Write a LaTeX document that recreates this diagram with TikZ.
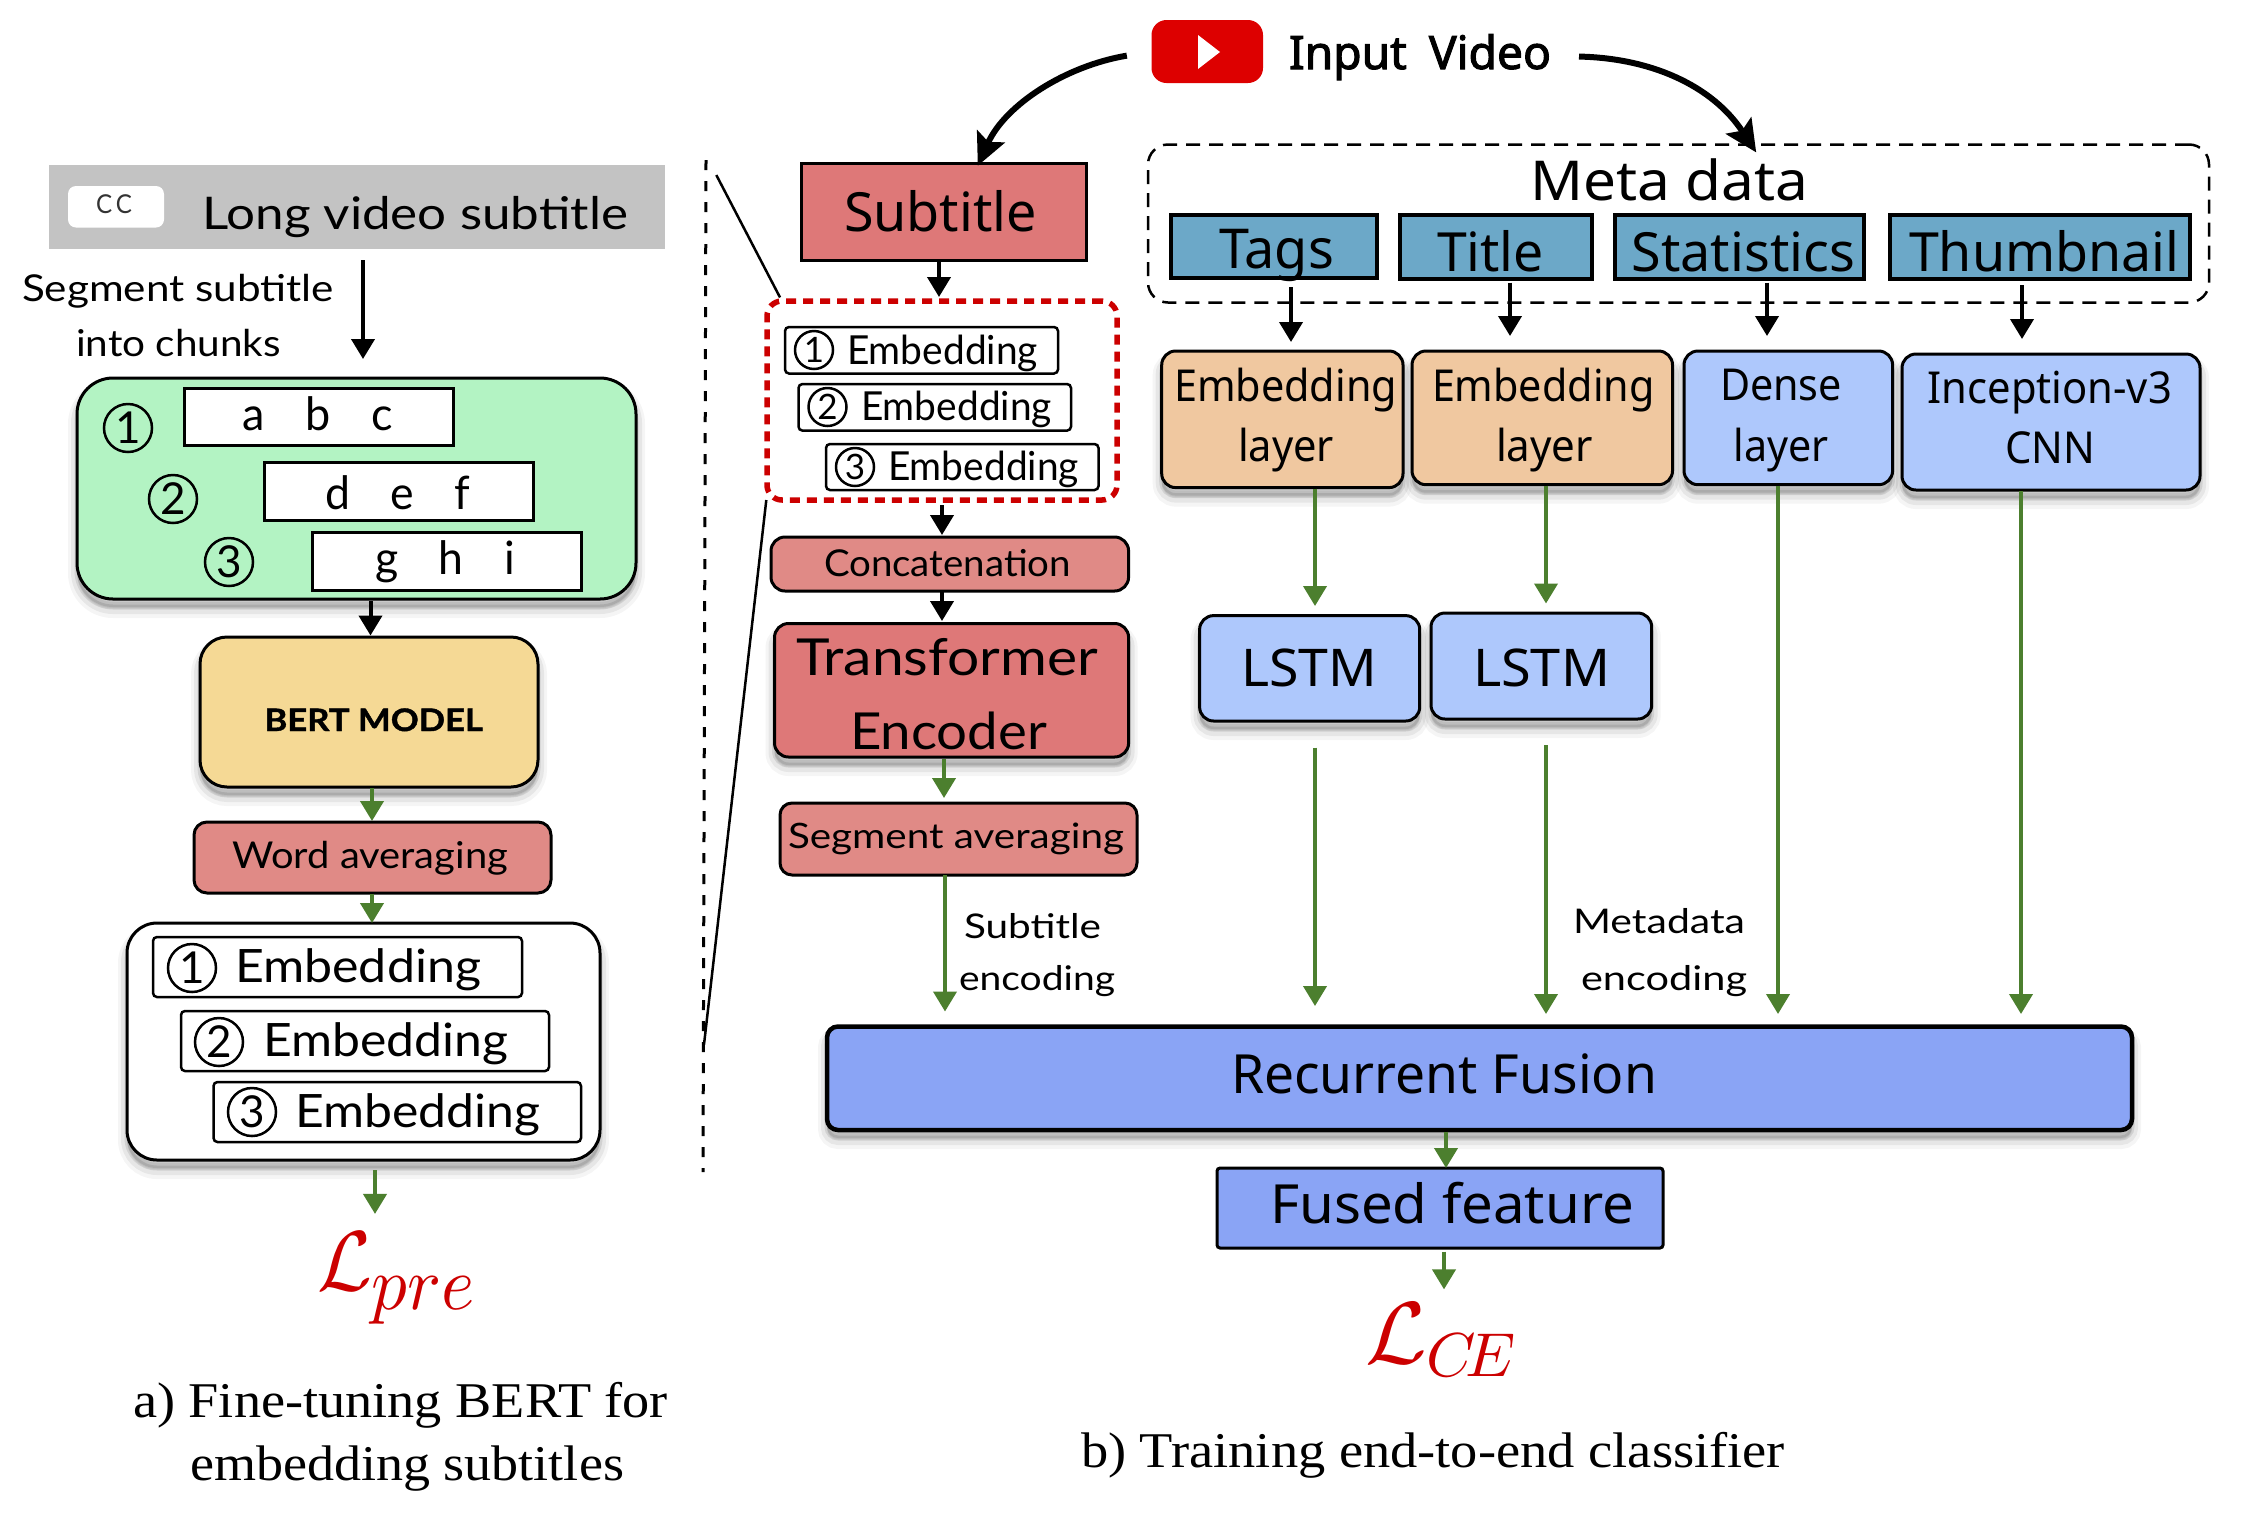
\documentclass[tikz,border=0pt]{standalone}
\usepackage{fontspec}
\usepackage{graphicx}
\usetikzlibrary{arrows.meta}
\newfontfamily\latofam{Lato}
\newfontfamily\latoheavy[BoldFeatures={FakeBold=1.2}]{Lato}
\newfontfamily\notofam{Noto Sans}
\newfontfamily\notoheavy[FakeBold=2.2]{Noto Sans}
\newfontfamily\serfam{Liberation Serif}
\newcommand\fL[1]{\fontsize{#1}{#1}\selectfont\latofam}
\newcommand\fLb[1]{\fontsize{#1}{#1}\selectfont\latoheavy\bfseries}
\newcommand\fN[1]{\fontsize{#1}{#1}\selectfont\notofam}
\newcommand\fNb[1]{\fontsize{#1}{#1}\selectfont\notoheavy}
\newcommand\fS[1]{\fontsize{#1}{#1}\selectfont\serfam}
\definecolor{cgray}{HTML}{C3C3C3}
\definecolor{cgreen}{HTML}{B3F3C3}
\definecolor{cbert}{HTML}{F5D995}
\definecolor{cword}{HTML}{E08A86}
\definecolor{csub}{HTML}{DE7878}
\definecolor{ctag}{HTML}{6CA8C8}
\definecolor{cpeach}{HTML}{F0C8A0}
\definecolor{cblue}{HTML}{AEC8FC}
\definecolor{cfus}{HTML}{8AA4F5}
\definecolor{cdg}{HTML}{4C7F2E}
\definecolor{cred}{HTML}{CC0000}
\definecolor{cyt}{HTML}{DD0000}
\newsavebox\tbx
% text line inside a box node: left, right, baseline, content
\newcommand\tl[4]{\sbox\tbx{#4}\pgfmathsetmacro\sxx{(#2-#1)/\the\wd\tbx}\pgfmathsetmacro\kx{#1-\cx}\pgfmathsetmacro\ry{\cy-#3-1}\makebox[0pt][l]{\kern\kx pt\raisebox{\ry pt}[0pt][0pt]{\scalebox{\sxx}[1]{\usebox\tbx}}}}
% box node: name, style, x1, y1, x2, y2, content
\newcommand\bx[7]{\pgfmathsetmacro\cx{(#3+#5)/2}\pgfmathsetmacro\cy{(#4+#6)/2}\pgfmathsetmacro\bw{#5-#3}\pgfmathsetmacro\bh{#6-#4}\node[#2,minimum width=\bw pt,minimum height=\bh pt] (#1) at (\cx,\cy) {#7};}
% free text node: name, left, right, baseline, content
\newcommand\tx[5]{\node[anchor=base west] (#1) at (#2,#4+1) {\sbox\tbx{#5}\pgfmathsetmacro\sxx{(#3-#2)/\the\wd\tbx}\scalebox{\sxx}[1]{\usebox\tbx}};}
\tikzset{
 every node/.style={inner sep=0pt,outer sep=0pt},
 softshadow/.style={
  preaction={draw=black,fill=black,opacity=.04,line width=18pt,transform canvas={yshift=-10pt}},
  preaction={draw=black,fill=black,opacity=.06,line width=12pt,transform canvas={yshift=-9pt}},
  preaction={draw=black,fill=black,opacity=.09,line width=5pt,transform canvas={yshift=-8pt}}},
 plain/.style={draw=black,line width=3pt},
 round1/.style={plain,rounded corners=#1},
 rbox/.style={draw=black,line width=2.5pt,fill=white,rounded corners=4pt},
 tagbox/.style={draw=black,line width=4pt,fill=ctag},
 num/.style={circle,draw=black,line width=2.5pt,minimum size=#1},
 blk/.style={draw=black,line width=4pt,-{Triangle[length=20pt,width=23pt]}},
 grn/.style={draw=cdg,line width=4pt,-{Triangle[length=20pt,width=23pt]}},
 curv/.style={draw=black,line width=6pt,-{Stealth[length=32pt,width=30pt,inset=6pt]}},
 guide/.style={draw=black,line width=2.5pt}
}
\begin{document}
\begin{tikzpicture}[x=1pt,y=-1pt]
\useasboundingbox (0,0) rectangle (2266,1524);
\fill[white] (0,0) rectangle (2266,1524);

% ---------- left panel ----------
\bx{gray}{fill=cgray}{49}{165}{665}{249.4}{\tl{202}{628}{228.4}{\fL{45}Long video subtitle}}
\bx{cc}{fill=white,rounded corners=8pt}{68}{186}{164}{227.5}{\tl{96}{132}{212}{\fL{26}\color{black!80}C\hspace{4pt}C}}
\tx{seg1}{22}{334}{300.7}{\fL{37}Segment subtitle}
\tx{seg2}{76}{281}{355}{\fL{37}into chunks}

\bx{chunks}{round1=36pt,fill=cgreen,softshadow}{77}{378}{636}{599}{}
\bx{abc}{plain,fill=white}{184}{388}{453}{445.8}{\tl{242}{393}{429.3}{\fL{46}a\hspace{42pt}b\hspace{42pt}c}}
\bx{def}{plain,fill=white}{264}{462}{533}{520.8}{\tl{325}{470.6}{508.3}{\fL{46}d\hspace{42pt}e\hspace{42pt}f}}
\bx{ghi}{plain,fill=white}{312}{532.4}{581}{590.4}{\tl{375}{515}{573}{\fL{46}g\hspace{42pt}h\hspace{42pt}i}}
\node[num=48pt] (ca1) at (128,428) {\fL{44}1};
\node[num=48pt] (ca2) at (173,499) {\fL{44}2};
\node[num=48pt] (ca3) at (229,562) {\fL{44}3};

\bx{bert}{round1=27pt,fill=cbert,softshadow}{200}{637}{538}{787}{\tl{264.5}{483}{730}{\fLb{31}BERT MODEL}}
\bx{word}{round1=13pt,fill=cword}{194}{822}{551}{893}{\tl{232}{508}{867}{\fL{37}Word averaging}}

\bx{embs}{round1=30pt,fill=white,softshadow}{127}{923}{600}{1160}{}
\bx{ea1}{rbox}{153}{937}{522}{997}{\tl{235}{481}{981}{\fL{46}Embedding}}
\bx{ea2}{rbox}{181}{1011}{549}{1071}{\tl{263}{508}{1055}{\fL{46}Embedding}}
\bx{ea3}{rbox}{213.5}{1082}{581}{1142}{\tl{295}{540}{1126}{\fL{46}Embedding}}
\node[num=48pt] (cb1) at (192,968) {\fL{44}1};
\node[num=48pt] (cb2) at (219,1042) {\fL{44}2};
\node[num=48pt] (cb3) at (252,1112) {\fL{44}3};

\tx{lpre}{317}{475}{1289}{\color{cred}\scalebox{8.5}{\normalsize$\mathcal{L}$}\raisebox{-19.5pt}{\scalebox{7.6}{\normalsize$pre$}}}
\tx{capa1}{133}{668}{1416}{\fS{50}a) Fine-tuning BERT for}
\tx{capa2}{190}{624}{1479}{\fS{50}embedding subtitles}

\draw[blk,shorten <=11pt,shorten >=19pt] (gray.south -| 363,0) -- (chunks.north -| 363,0);
\draw[blk,shorten <=2pt,shorten >=1.5pt] (chunks.south -| 370.5,0) -- (bert.north -| 370.5,0);
\draw[grn,shorten <=1pt,shorten >=1pt] (bert.south -| 372,0) -- (word.north -| 372,0);
\draw[grn,shorten <=1pt] (word.south -| 372,0) -- (embs.north -| 372,0);
\draw[grn,shorten <=10pt,shorten >=18pt] (embs.south -| 375,0) -- (lpre.north -| 375,0);

% ---------- separator ----------
\coordinate (sepT) at (706,160);
\coordinate (sepB) at (703,1172);
\draw[line width=3pt,dash pattern=on 10pt off 11pt] (sepT) -- (sepB);

% ---------- right panel ----------
\bx{yt}{fill=cyt,rounded corners=15pt}{1151.5}{20}{1263}{83}{}
\fill[white] (1198,35) -- (1220,52) -- (1198,69) -- cycle;
\tx{input}{1289}{1551}{68}{\fNb{46}Input\hspace{22pt}Video}

\bx{subtitle}{plain,fill=csub}{801}{163}{1086}{260}{\tl{844}{1037}{230}{\fN{54}Subtitle}}
\bx{reddash}{draw=cred,line width=5.5pt,dash pattern=on 10pt off 7pt,rounded corners=15pt}{767}{301}{1117}{500}{}
\bx{er1}{rbox}{785}{327}{1058}{373.5}{\tl{847}{1038}{363}{\fL{40}Embedding}}
\bx{er2}{rbox}{798.5}{384}{1071}{430.6}{\tl{861}{1052}{419}{\fL{40}Embedding}}
\bx{er3}{rbox}{826}{444}{1098.5}{490}{\tl{888}{1079}{479.6}{\fL{40}Embedding}}
\node[num=38pt] (cr1) at (814,350) {\fL{35}1};
\node[num=38pt] (cr2) at (827.5,407) {\fL{35}2};
\node[num=38pt] (cr3) at (855,467) {\fL{35}3};
\bx{concat}{round1=14pt,fill=cword}{771}{537}{1128.6}{591}{\tl{824}{1071}{575}{\fL{37}Concatenation}}
\bx{transf}{round1=14pt,fill=csub,softshadow}{774.5}{623.5}{1128.6}{757}{\tl{796}{1098}{674}{\fL{51}Transformer}\tl{850}{1047}{748}{\fL{51}Encoder}}
\bx{segavg}{round1=12pt,fill=cword}{780}{803}{1137}{875}{\tl{788}{1124}{847.5}{\fL{35}Segment averaging}}

\coordinate (zoomA) at (716.3,175);
\coordinate (zoomB) at (780,297.4);
\coordinate (zoomC) at (766.3,500);
\coordinate (zoomD) at (704,1044.5);
\draw[guide] (zoomA) -- (zoomB);
\draw[guide] (zoomC) -- (zoomD);

\bx{meta}{draw=black,line width=2.5pt,dash pattern=on 14pt off 9pt,rounded corners=20pt}{1148}{144.5}{2209}{302.5}{}
\tx{metat}{1530}{1808}{199.7}{\fN{55}Meta data}
\bx{tags}{tagbox}{1170.6}{215}{1377}{278}{\tl{1219}{1334}{267}{\fN{55}Tags}}
\bx{title}{tagbox}{1399.6}{215}{1592}{279}{\tl{1437}{1544}{270}{\fN{54}Title}}
\bx{stats}{tagbox}{1614.5}{215}{1864}{279}{\tl{1631.6}{1855}{270}{\fN{54}Statistics}}
\bx{thumb}{tagbox}{1889.6}{215}{2190}{279}{\tl{1909}{2179.6}{270}{\fN{54}Thumbnail}}

\bx{el1}{round1=14pt,fill=cpeach,softshadow}{1161.7}{351}{1403}{487.6}{\tl{1174}{1397}{400}{\fN{44}Embedding}\tl{1238}{1334}{460}{\fN{44}layer}}
\bx{el2}{round1=14pt,fill=cpeach,softshadow}{1412}{351}{1672.5}{484.7}{\tl{1432}{1654.6}{400}{\fN{44}Embedding}\tl{1496}{1593}{460}{\fN{44}layer}}
\bx{dense}{round1=14pt,fill=cblue,softshadow}{1684}{351}{1892.6}{484.7}{\tl{1720}{1842}{399}{\fN{44}Dense}\tl{1733.5}{1828.6}{460}{\fN{44}layer}}
\bx{incep}{round1=14pt,fill=cblue,softshadow}{1902}{354}{2200}{490}{\tl{1927.5}{2172}{402}{\fN{44}Inception-v3}\tl{2005}{2095}{462}{\fN{44}CNN}}
\bx{lstm1}{round1=14pt,fill=cblue,softshadow}{1199.6}{615.6}{1419.7}{721}{\tl{1241}{1377}{685}{\fN{52}LSTM}}
\bx{lstm2}{round1=14pt,fill=cblue,softshadow}{1431}{613}{1651.7}{719}{\tl{1473}{1610}{685}{\fN{52}LSTM}}

\bx{fusion}{draw=black,line width=4.5pt,fill=cfus,rounded corners=11pt,softshadow}{827}{1026.5}{2132}{1130}{\tl{1231}{1657}{1092.5}{\fN{54}Recurrent Fusion}}
\bx{fused}{draw=black,line width=3pt,fill=cfus,rounded corners=3pt}{1217}{1168}{1663}{1248}{\tl{1270}{1634}{1222}{\fN{54}Fused feature}}

\tx{subl1}{964}{1101}{937}{\fL{34}Subtitle}
\tx{subl2}{959}{1115}{989}{\fL{34}encoding}
\tx{metl1}{1573}{1745}{932.5}{\fL{34}Metadata}
\tx{metl2}{1581}{1747}{989}{\fL{34}encoding}
\tx{lce}{1365}{1516}{1362.5}{\color{cred}\scalebox{8.8}{\normalsize$\mathcal{L}$}\raisebox{-12.5pt}{\scalebox{6.2}{\normalsize$C\!E$}}}
\tx{capb}{1081}{1785}{1466}{\fS{50}b) Training end-to-end classifier}

% connectors
\draw[curv,shorten <=25pt,shorten >=-3pt] (yt.west) .. controls (1065,66) and (1005,105) .. (subtitle.north -| 979,0);
\draw[curv,shorten <=28pt,shorten >=-9.5pt] (input.east |- 0,56) .. controls (1650,58) and (1712,85) .. (meta.north -| 1751,0);
\draw[blk,shorten >=4pt] (subtitle.south -| 939,0) -- (reddash.north -| 939,0);
\draw[blk,shorten <=5pt,shorten >=2pt] (reddash.south -| 942,0) -- (concat.north -| 942,0);
\draw[blk,shorten <=1pt,shorten >=2.5pt] (concat.south -| 942,0) -- (transf.north -| 942,0);
\draw[grn,shorten <=2pt,shorten >=5pt] (transf.south -| 944,0) -- (segavg.north -| 944,0);
\draw[grn,shorten >=15pt] (segavg.south -| 945,0) -- (fusion.north -| 945,0);
\draw[blk,shorten <=9.4pt,shorten >=9pt] (tags.south -| 1291,0) -- (el1.north -| 1291,0);
\draw[blk,shorten <=3.6pt,shorten >=15pt] (title.south -| 1510,0) -- (el2.north -| 1510,0);
\draw[blk,shorten <=3.6pt,shorten >=15pt] (stats.south -| 1767,0) -- (dense.north -| 1767,0);
\draw[blk,shorten <=6pt,shorten >=15pt] (thumb.south -| 2022,0) -- (incep.north -| 2022,0);
\draw[grn,shorten <=1pt,shorten >=9.6pt] (el1.south -| 1315,0) -- (lstm1.north -| 1315,0);
\draw[grn,shorten <=1pt,shorten >=9.5pt] (el2.south -| 1546,0) -- (lstm2.north -| 1546,0);
\draw[grn,shorten <=26.5pt,shorten >=20.5pt] (lstm1.south -| 1315,0) -- (fusion.north -| 1315,0);
\draw[grn,shorten <=26pt,shorten >=12.5pt] (lstm2.south -| 1546,0) -- (fusion.north -| 1546,0);
\draw[grn,shorten <=1pt,shorten >=12.5pt] (dense.south -| 1778,0) -- (fusion.north -| 1778,0);
\draw[grn,shorten <=1pt,shorten >=12.5pt] (incep.south -| 2021,0) -- (fusion.north -| 2021,0);
\draw[grn,shorten <=1.5pt] (fusion.south -| 1446,0) -- (fused.north -| 1446,0);
\draw[grn,shorten <=3.5pt,shorten >=14pt] (fused.south -| 1444,0) -- (lce.north -| 1444,0);
\end{tikzpicture}
\end{document}
